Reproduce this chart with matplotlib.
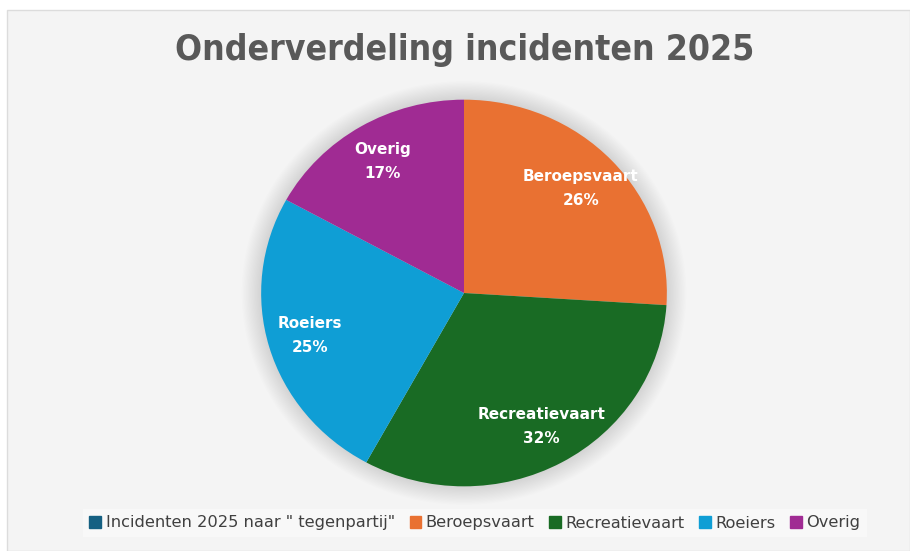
import matplotlib.pyplot as plt
from matplotlib.patches import Rectangle, Circle, Patch

# data
categories = ["Beroepsvaart", "Recreatievaart", "Roeiers", "Overig"]
values = [26, 32, 25, 17]
colors = ["#E97132", "#196B24", "#0F9ED5", "#A02B93"]
series_name = 'Incidenten 2025 naar " tegenpartij"'
series_color = "#156082"
title = "Onderverdeling incidenten 2025"

W, H = 910, 551
fig = plt.figure(figsize=(W / 100, H / 100), dpi=100, facecolor="white")

# grey chart area with thin border
bg = Rectangle((7 / W, 0), 1 - 7 / W, 1 - 10 / H, transform=fig.transFigure,
               facecolor="#f4f4f4", edgecolor="#dcdcdc", lw=1, zorder=-10)
fig.add_artist(bg)

fig.text(465 / W, 1 - 50 / H, title, ha="center", va="center", fontsize=25.5,
         fontweight="bold", color="#595959", fontstretch="condensed")

# pie axes (slightly wider than tall, as in the reference)
ax = fig.add_axes([261 / W, 1 - 486 / H, 406 / W, 386 / H])
ax.set_facecolor("none")

# soft shadow behind the pie
for i in range(16):
    ax.add_patch(Circle((0, 0), 1.0 + 0.006 * (i + 1), facecolor="#000000",
                        alpha=0.008, edgecolor="none", zorder=0, clip_on=False))

it = iter(categories)
wedges, _, autotexts = ax.pie(values, colors=colors, startangle=90, counterclock=False,
                              autopct=lambda p: f"{next(it)}\n{p:.0f}%", pctdistance=0.79,
                              wedgeprops=dict(linewidth=0),
                              textprops=dict(color="white", fontweight="bold", fontsize=11,
                                             linespacing=1.75))
for w in wedges:
    w.set_zorder(2)
for t in autotexts:
    t.set_zorder(3)
ax.set_aspect("auto")
ax.set_xlim(-1.05, 1.05)
ax.set_ylim(-1.05, 1.05)
ax.set_position([(261 - 10) / W, 1 - (486 + 10) / H, 426 / W, 406 / H])

handles = [Patch(color=series_color)] + [Patch(color=c) for c in colors]
labels = [series_name] + categories
leg = fig.legend(handles, labels, loc="center", bbox_to_anchor=(475 / W, 1 - 523 / H), ncol=5,
                 frameon=True, facecolor="#fafafa", edgecolor="none", fancybox=False,
                 handlelength=0.7, handleheight=0.7, handletextpad=0.3, columnspacing=0.9,
                 prop=dict(size=11.7))
for t in leg.get_texts():
    t.set_color("#404040")

fig.savefig("out.png", dpi=100, facecolor="white")
